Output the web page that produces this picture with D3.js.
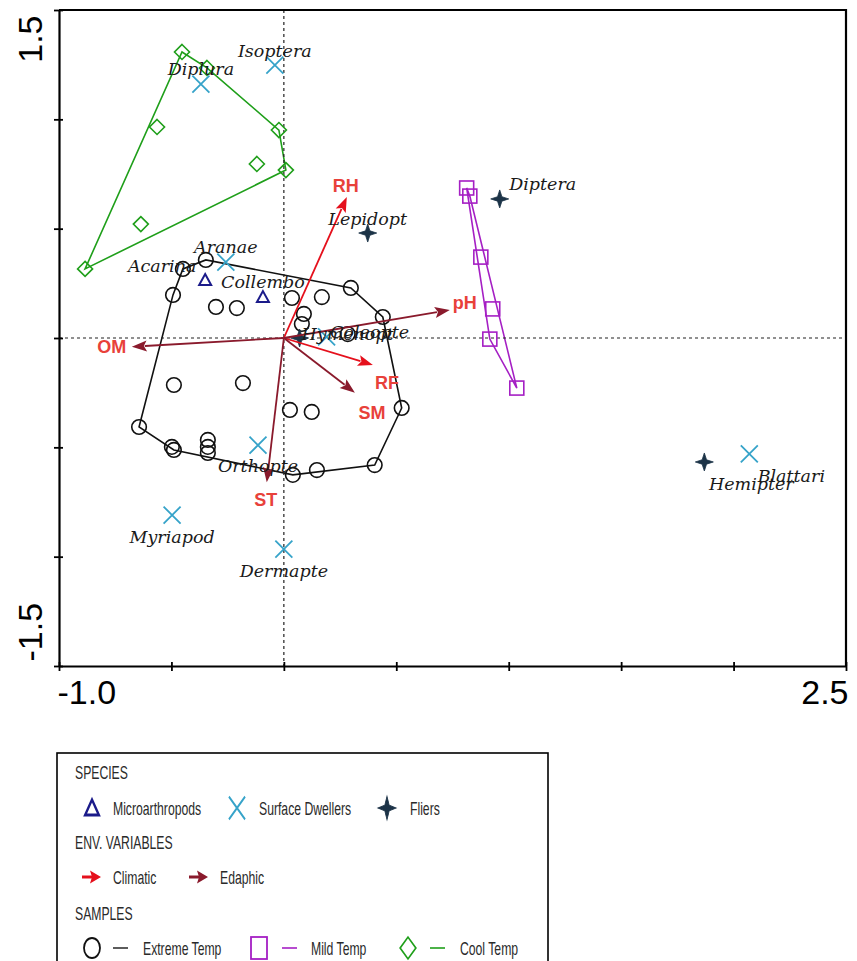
<!DOCTYPE html>
<html>
<head>
<meta charset="utf-8">
<script src="https://cdn.jsdelivr.net/npm/d3@7"></script>
<style>
  body { margin: 0; background: #fff; }
  svg { display: block; }
</style>
</head>
<body>
<div id="chart"></div>
<script>
// species scores (axis 1, axis 2)
const speciesNames = ["Isoptera", "Diplura", "Aranae", "Hymenopt", "Orthopte", "Myriapod", "Dermapte", "Blattari",
                      "Acarina", "Collembo",
                      "Lepidopt", "Diptera", "Hemipter", "Coleopte"];
const speciesGroup = ["surface", "surface", "surface", "surface", "surface", "surface", "surface", "surface",
                      "micro", "micro",
                      "flier", "flier", "flier", "flier"];
const speciesX = [-0.04, -0.369, -0.258, 0.19, -0.115, -0.497, 0.0, 2.07,
                  -0.35, -0.093,
                  0.373, 0.96, 1.87, 0.07];
const speciesY = [1.248, 1.161, 0.347, 0.005, -0.49, -0.81, -0.965, -0.53,
                  0.265, 0.187,
                  0.48, 0.636, -0.567, 0.0];

// environmental variables (biplot arrows)
const envNames = ["RH", "RF", "pH", "OM", "SM", "ST"];
const envType = ["climatic", "climatic", "edaphic", "edaphic", "edaphic", "edaphic"];
const envX = [0.28, 0.396, 0.738, -0.676, 0.316, -0.076];
const envY = [0.645, -0.123, 0.128, -0.04, -0.25, -0.66];

// sample scores
const extremeX = [-0.347, -0.449, -0.493, -0.302, -0.209, 0.036, 0.169, 0.298, 0.44, 0.089, 0.08, 0.284, -0.489,
                  -0.182, 0.027, 0.124, 0.524, -0.644, -0.498, -0.489, -0.338, -0.338, -0.338, 0.04, 0.147, 0.404];
const extremeY = [0.357, 0.316, 0.197, 0.142, 0.137, 0.183, 0.187, 0.229, 0.096, 0.11, 0.064, 0.018, -0.215,
                  -0.206, -0.329, -0.338, -0.32, -0.407, -0.498, -0.512, -0.466, -0.498, -0.526, -0.626, -0.604, -0.581];
const mildX = [0.813, 0.827, 0.876, 0.929, 0.916, 1.036];
const mildY = [0.686, 0.649, 0.37, 0.133, -0.005, -0.229];
const coolX = [-0.453, -0.342, -0.564, -0.022, -0.12, 0.009, -0.636, -0.884];
const coolY = [1.308, 1.235, 0.965, 0.951, 0.796, 0.768, 0.521, 0.316];

const xTicks = [-1.0, -0.5, 0, 0.5, 1.0, 1.5, 2.0, 2.5];
const yTicks = [-1.5, -1.0, -0.5, 0, 0.5, 1.0, 1.5];
const xTickLabels = {"-1": "-1.0", "2.5": "2.5"};
const yTickLabels = {"-1.5": "-1.5", "1.5": "1.5"};

// label placement (pixels from the point)
const speciesLabelOffset = {
  Isoptera: [0, -14], Diplura: [0, -15], Aranae: [0, -15], Hymenopt: [21, -3],
  Orthopte: [0, 21], Myriapod: [0, 22], Dermapte: [0, 22], Blattari: [42, 22],
  Acarina: [-43, -14], Collembo: [0, -15],
  Lepidopt: [0, -14], Diptera: [43, -15], Hemipter: [47, 22], Coleopte: [70, -6]
};
const envLabelOffset = {
  RH: [-1, -11], RF: [14, 18], pH: [15, -7], OM: [-20, 0], SM: [17, 20], ST: [-1, 18]
};

const colors = {
  surface: "#36a3c9", micro: "#1b1b8a", flier: "#1c3347",
  climatic: "#e5101c", edaphic: "#8a1a2c", envText: "#e8413a",
  extreme: "#111111", mild: "#a51fc4", cool: "#1f9f1a"
};

const width = 857, height = 961;
const svg = d3.select("#chart").append("svg")
  .attr("width", width).attr("height", height);

const x = d3.scaleLinear().domain([-1.0, 2.5]).range([59, 846]);
const y = d3.scaleLinear().domain([-1.5, 1.5]).range([666, 10]);

const serif = "'DejaVu Serif', serif";
const sans = "'Liberation Sans', Arial, sans-serif";

// hulls
const sampleSets = [
  {key: "extreme", xs: extremeX, ys: extremeY},
  {key: "mild", xs: mildX, ys: mildY},
  {key: "cool", xs: coolX, ys: coolY}
];
sampleSets.forEach(s => {
  const pts = s.xs.map((v, i) => [x(v), y(s.ys[i])]);
  const hull = d3.polygonHull(pts);
  svg.append("path")
    .attr("d", "M" + hull.join("L") + "Z")
    .attr("fill", "none")
    .attr("stroke", colors[s.key])
    .attr("stroke-width", 1.6);
});

// zero lines
svg.append("line")
  .attr("x1", x(0)).attr("x2", x(0)).attr("y1", y(1.5)).attr("y2", y(-1.5))
  .attr("stroke", "#222").attr("stroke-width", 1.2).attr("stroke-dasharray", "3,3");
svg.append("line")
  .attr("x1", x(-1)).attr("x2", x(2.5)).attr("y1", y(0)).attr("y2", y(0))
  .attr("stroke", "#222").attr("stroke-width", 1.2).attr("stroke-dasharray", "3,3");

// sample markers
svg.append("g").selectAll("circle")
  .data(extremeX.map((v, i) => [v, extremeY[i]]))
  .join("circle")
  .attr("cx", d => x(d[0])).attr("cy", d => y(d[1])).attr("r", 7.3)
  .attr("fill", "none").attr("stroke", colors.extreme).attr("stroke-width", 1.6);

svg.append("g").selectAll("rect")
  .data(mildX.map((v, i) => [v, mildY[i]]))
  .join("rect")
  .attr("x", d => x(d[0]) - 7).attr("y", d => y(d[1]) - 7)
  .attr("width", 14).attr("height", 14)
  .attr("fill", "none").attr("stroke", colors.mild).attr("stroke-width", 1.6);

const diamond = "M0,-7.5L7.5,0L0,7.5L-7.5,0Z";
svg.append("g").selectAll("path")
  .data(coolX.map((v, i) => [v, coolY[i]]))
  .join("path")
  .attr("transform", d => `translate(${x(d[0])},${y(d[1])})`)
  .attr("d", diamond)
  .attr("fill", "none").attr("stroke", colors.cool).attr("stroke-width", 1.6);

// species markers
const star = "M0,-9L2.2,-2.2L9,0L2.2,2.2L0,9L-2.2,2.2L-9,0L-2.2,-2.2Z";
const tri = "M0,-6L6,5L-6,5Z";
const cross = "M-8.5,-8.5L8.5,8.5M-8.5,8.5L8.5,-8.5";

function drawSymbol(g, group, px, py, sx, sy) {
  const t = `translate(${px},${py})` + (sy ? ` scale(${sx},${sy})` : "");
  if (group === "surface") {
    g.append("path").attr("transform", t).attr("d", cross)
      .attr("fill", "none").attr("stroke", colors.surface).attr("stroke-width", 1.8);
  } else if (group === "micro") {
    g.append("path").attr("transform", t).attr("d", tri)
      .attr("fill", "none").attr("stroke", colors.micro).attr("stroke-width", 2);
  } else {
    g.append("path").attr("transform", t).attr("d", star)
      .attr("fill", colors.flier).attr("stroke", colors.flier).attr("stroke-width", 0.8);
  }
}

const spG = svg.append("g");
speciesNames.forEach((n, i) => drawSymbol(spG, speciesGroup[i], x(speciesX[i]), y(speciesY[i])));

// arrows
function arrow(g, x0, y0, x1, y1, color, headLen, headW, lw, notch) {
  const dx = x1 - x0, dy = y1 - y0, len = Math.hypot(dx, dy);
  const ux = dx / len, uy = dy / len;
  const bx = x1 - ux * headLen, by = y1 - uy * headLen;
  g.append("line").attr("x1", x0).attr("y1", y0).attr("x2", bx + ux * 2).attr("y2", by + uy * 2)
    .attr("stroke", color).attr("stroke-width", lw);
  g.append("path")
    .attr("d", `M${x1},${y1}L${bx - uy * headW},${by + ux * headW}L${bx + ux * notch},${by + uy * notch}L${bx + uy * headW},${by - ux * headW}Z`)
    .attr("fill", color);
}

const arG = svg.append("g");
envNames.forEach((n, i) => {
  arrow(arG, x(0), y(0), x(envX[i]), y(envY[i]), colors[envType[i]], 15, 5.5, 1.8, 3);
});

// species labels
speciesNames.forEach((n, i) => {
  const o = speciesLabelOffset[n];
  svg.append("text")
    .attr("x", x(speciesX[i]) + o[0]).attr("y", y(speciesY[i]) + o[1] + 6)
    .attr("text-anchor", "middle")
    .attr("font-family", serif).attr("font-style", "italic").attr("font-size", 17.5)
    .attr("fill", "#1a1a1a")
    .text(n);
});

// env labels
envNames.forEach((n, i) => {
  const o = envLabelOffset[n];
  svg.append("text")
    .attr("x", x(envX[i]) + o[0]).attr("y", y(envY[i]) + o[1] + 6)
    .attr("text-anchor", "middle")
    .attr("font-family", sans).attr("font-weight", "bold").attr("font-size", 18)
    .attr("fill", colors.envText)
    .text(n);
});

// axes
const xAxis = svg.append("g").attr("transform", `translate(0,${y(-1.5)})`)
  .call(d3.axisBottom(x).tickValues(xTicks).tickSize(0).tickFormat(d => xTickLabels[String(d)] || ""));
const yAxis = svg.append("g").attr("transform", `translate(${x(-1)},0)`)
  .call(d3.axisLeft(y).tickValues(yTicks).tickSize(0).tickFormat(d => yTickLabels[String(d)] || ""));

[xAxis, yAxis].forEach(a => {
  a.select(".domain").attr("stroke", "#000").attr("stroke-width", 2.2);
  a.selectAll("text").attr("font-family", sans).attr("font-size", 34).attr("fill", "#000");
});
xAxis.selectAll(".tick line").attr("y1", -4).attr("y2", 5).attr("stroke", "#000").attr("stroke-width", 1.8);
yAxis.selectAll(".tick line").attr("x1", -5).attr("x2", 4).attr("stroke", "#000").attr("stroke-width", 1.8);
xAxis.selectAll(".tick text")
  .attr("y", 38).attr("dy", 0)
  .attr("text-anchor", d => d === -1 ? "start" : "end")
  .attr("x", d => d === -1 ? -2 : 2);
yAxis.selectAll(".tick text")
  .attr("x", 0).attr("dy", 0)
  .attr("text-anchor", d => d === 1.5 ? "end" : "start")
  .attr("transform", d => `translate(-17,${d === 1.5 ? 5 : -5}) rotate(-90)`);

// top and right frame
svg.append("path")
  .attr("d", `M${x(-1)},${y(1.5)}H${x(2.5)}V${y(-1.5)}`)
  .attr("fill", "none").attr("stroke", "#000").attr("stroke-width", 2.2);

// legend
const lg = svg.append("g");
lg.append("rect").attr("x", 57).attr("y", 753).attr("width", 491).attr("height", 240)
  .attr("fill", "none").attr("stroke", "#000").attr("stroke-width", 1.6);

// condensed legend text
function ltext(tx, ty, s) {
  lg.append("text").attr("transform", `translate(${tx},${ty}) scale(0.66,1)`).text(s)
    .attr("font-family", sans).attr("font-size", 18.5).attr("fill", "#2a2a2a");
}

ltext(75, 779, "SPECIES");
drawSymbol(lg, "micro", 92, 808, 1.15, 1.4);
ltext(113, 815, "Microarthropods");
drawSymbol(lg, "surface", 237, 808, 0.95, 1.35);
ltext(259, 815, "Surface Dwellers");
drawSymbol(lg, "flier", 387, 808, 1.0, 1.3);
ltext(410, 815, "Fliers");

ltext(75, 849, "ENV. VARIABLES");
arrow(lg, 82, 877, 101, 877, colors.climatic, 11, 6.5, 3, 2);
ltext(113, 884, "Climatic");
arrow(lg, 189, 877, 208, 877, colors.edaphic, 11, 6.5, 3, 2);
ltext(220, 884, "Edaphic");

ltext(75, 920, "SAMPLES");
lg.append("ellipse").attr("cx", 92).attr("cy", 948).attr("rx", 8).attr("ry", 10)
  .attr("fill", "none").attr("stroke", colors.extreme).attr("stroke-width", 1.8);
lg.append("line").attr("x1", 113).attr("x2", 128).attr("y1", 948).attr("y2", 948)
  .attr("stroke", "#333").attr("stroke-width", 1.6);
ltext(143, 955, "Extreme Temp");
lg.append("rect").attr("x", 251).attr("y", 937).attr("width", 16).attr("height", 22)
  .attr("fill", "none").attr("stroke", colors.mild).attr("stroke-width", 1.8);
lg.append("line").attr("x1", 282).attr("x2", 297).attr("y1", 948).attr("y2", 948)
  .attr("stroke", colors.mild).attr("stroke-width", 1.6);
ltext(311, 955, "Mild Temp");
lg.append("path").attr("transform", "translate(408,948) scale(1.05,1.45)").attr("d", diamond)
  .attr("fill", "none").attr("stroke", colors.cool).attr("stroke-width", 1.4);
lg.append("line").attr("x1", 430).attr("x2", 445).attr("y1", 948).attr("y2", 948)
  .attr("stroke", colors.cool).attr("stroke-width", 1.6);
ltext(460, 955, "Cool Temp");
</script>
</body>
</html>
